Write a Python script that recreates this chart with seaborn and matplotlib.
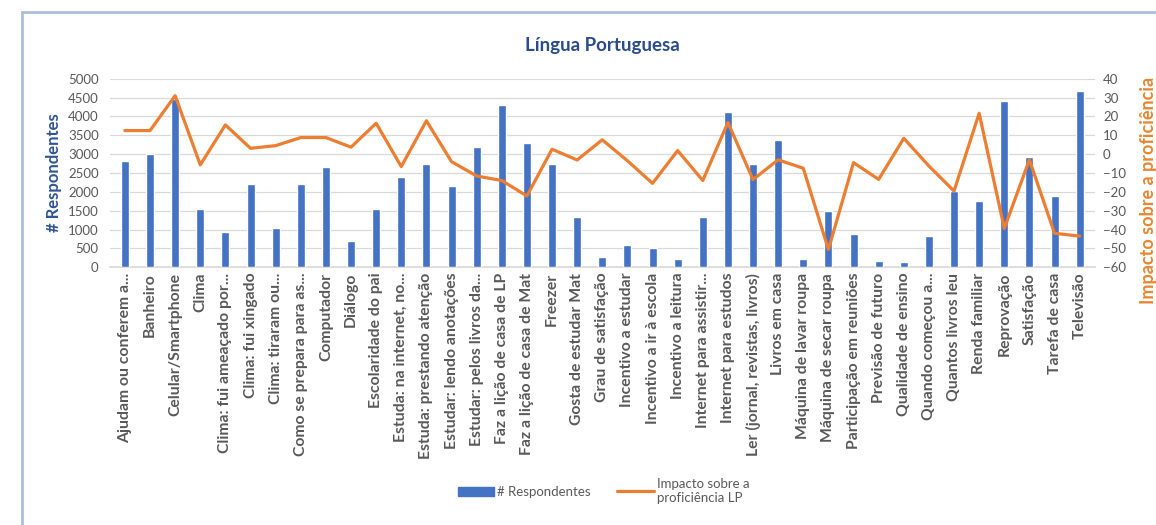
import numpy as np
import pandas as pd
import matplotlib
matplotlib.use("Agg")
import matplotlib.pyplot as plt
from matplotlib.patches import Rectangle, Patch
from matplotlib.lines import Line2D
import seaborn as sns

categories = [
    "Ajudam ou conferem a...", "Banheiro", "Celular/Smartphone", "Clima",
    "Clima: fui ameaçado por...", "Clima: fui xingado", "Clima: tiraram ou...",
    "Como se prepara para as...", "Computador", "Diálogo", "Escolaridade do pai",
    "Estuda: na internet, no...", "Estuda: prestando atenção", "Estudar: lendo anotações",
    "Estudar: pelos livros da...", "Faz a lição de casa de LP", "Faz a lição de casa de Mat",
    "Freezer", "Gosta de estudar Mat", "Grau de satisfação", "Incentivo a estudar",
    "Incentivo a ir à escola", "Incentivo a leitura", "Internet para assistir...",
    "Internet para estudos", "Ler (jornal, revistas, livros)", "Livros em casa",
    "Máquina de lavar roupa", "Máquina de secar roupa", "Participação em reuniões",
    "Previsão de futuro", "Qualidade de ensino", "Quando começou a...",
    "Quantos livros leu", "Renda familiar", "Reprovação", "Satisfação",
    "Tarefa de casa", "Televisão",
]
respondentes = [
    2830, 3000, 4450, 1550, 930, 2200, 1050, 2200, 2650, 700, 1550,
    2400, 2750, 2150, 3200, 4300, 3300, 2750, 1330, 270, 600,
    500, 230, 1330, 4120, 2750, 3370, 230, 1500, 870,
    170, 130, 830, 2030, 1750, 4400, 2930, 1900, 4680,
]
impacto = [
    12.5, 12.5, 31, -5.7, 15.5, 3.1, 4.5, 8.8, 8.8, 3.7, 16.4,
    -6.6, 17.7, -4, -11.6, -14, -22.2, 2.6, -3.1, 7.6, -3.5,
    -15.5, 1.9, -14, 16.8, -13.5, -3, -7.5, -50.6, -4.5,
    -13.4, 8.4, -6.3, -19.6, 21.7, -39.4, -3, -42, -43.5,
]
left_ticks = list(range(0, 5001, 500))
right_ticks = list(range(-60, 41, 10))

sns.set_theme(style="white")
plt.rcParams["font.family"] = ["Lato", "DejaVu Sans"]

BLUE = "#4472C4"
ORANGE = "#ED7D31"
GREY = "#595959"

df = pd.DataFrame({"cat": categories, "resp": respondentes, "imp": impacto,
                   "pos": np.arange(len(categories))})

fig = plt.figure(figsize=(11.56, 5.25), dpi=100)
ax = fig.add_axes([0.095, 0.491, 0.852, 0.359])

sns.barplot(data=df, x="cat", y="resp", color=BLUE, width=0.32, ax=ax,
            saturation=1, zorder=3)
ax.set_ylim(0, 5000)
ax.set_yticks(left_ticks)
ax.set_xlim(-0.6, len(categories) - 0.4)
ax.grid(axis="y", color="#D9D9D9", linewidth=0.9, zorder=0)
ax.set_axisbelow(True)
for s in ["top", "right", "left"]:
    ax.spines[s].set_visible(False)
ax.spines["bottom"].set_color("#D9D9D9")
ax.tick_params(axis="y", length=0, labelsize=9.5, labelcolor=GREY, pad=8)
ax.tick_params(axis="x", length=0, labelsize=11.3, labelcolor=GREY, pad=4)
ax.set_xticks(range(len(categories)))
ax.set_xticklabels(categories, rotation=90, fontweight="bold")
ax.set_xlabel("")
ax.set_ylabel("# Respondentes", color="#2F5597", fontsize=12, fontweight="bold")
ax.yaxis.set_label_coords(-0.049, 0.5)

ax2 = ax.twinx()
sns.lineplot(data=df, x="pos", y="imp", color=ORANGE, linewidth=2.3, ax=ax2,
             zorder=4)
ax2.set_ylim(-60, 40)
ax2.set_yticks(right_ticks)
ax2.set_xlim(-0.6, len(categories) - 0.4)
for s in ["top", "right", "left", "bottom"]:
    ax2.spines[s].set_visible(False)
ax2.tick_params(axis="y", length=0, labelsize=9.5, labelcolor=GREY, pad=6)
ax2.set_xlabel("")
ax2.set_ylabel("Impacto sobre a proficiência", color="#E8852F", fontsize=13,
               fontweight="bold")
ax2.yaxis.set_label_coords(1.046, 0.41)
ax2.grid(False)

ax.set_title("Língua Portuguesa", color="#2B4C8C", fontsize=13.5,
             fontweight="bold", pad=20)

handles = [Patch(facecolor=BLUE, edgecolor=BLUE),
           Line2D([0], [0], color=ORANGE, linewidth=2.3)]
labels = ["# Respondentes", "Impacto sobre a\nproficiência LP"]
fig.legend(handles, labels, loc="center", bbox_to_anchor=(0.522, 0.065),
           ncol=2, frameon=False, fontsize=9.5, labelcolor=GREY,
           handlelength=2.8, handletextpad=0.2, columnspacing=2.0)

fig.patches.append(Rectangle((22 / 1156, -0.1), 1.2, 1 - 12 / 525 + 0.1,
                             transform=fig.transFigure, fill=False,
                             edgecolor="#A9BEDD", linewidth=2.0))

fig.savefig("out.png", dpi=100, facecolor="white")
